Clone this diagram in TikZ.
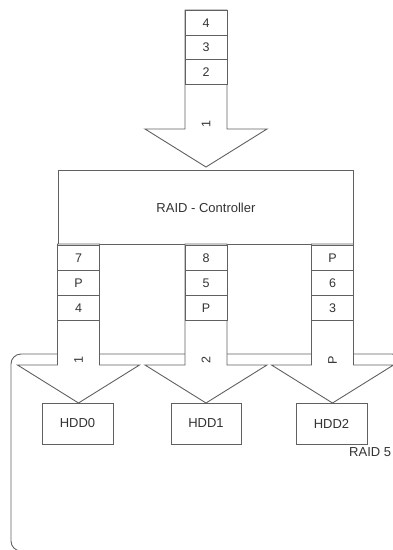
\documentclass[tikz,border=0pt]{standalone}
\usepackage{fontspec}
\setmainfont{Liberation Sans}
\begin{document}
\begin{tikzpicture}[x=1pt,y=-1pt,
  line/.style={draw=black!62,line width=0.9pt},
  cell/.style={line,fill=white,minimum width=42pt,minimum height=24.7pt,inner sep=0pt,anchor=north,font=\fontsize{12.5}{14}\selectfont,text=black!80},
  box/.style={line,fill=white,inner sep=0pt,font=\fontsize{13}{15}\selectfont,text=black!80},
  albl/.style={rotate=90,inner sep=0pt,font=\fontsize{12.5}{14}\selectfont,text=black!80},
  txt/.style={inner sep=0pt,font=\fontsize{13}{15}\selectfont,text=black!80}]
\useasboundingbox (0,0) rectangle (392,550);
% RAID 5 frame
\draw[line,rounded corners=10pt] (11,354) rectangle (402,551);
% top arrow
\draw[line,fill=white,line join=miter] (185,10) -- (227,10) -- (227,129) -- (267,129) -- (206,167) -- (145,129) -- (185,129) -- cycle;
\node[cell] (t4) at (206,10) {4};
\node[cell] (t3) at (206,34.7) {3};
\node[cell] (t2) at (206,59.3) {2};
\node[albl] (t1) at (206,124) {1};
% controller
\node[box,minimum width=295pt,minimum height=74pt,anchor=north west] (ctrl) at (58,170) {RAID - Controller};
% lower arrows
\foreach \cx/\n/\a/\b/\c/\lab in {78.5/a/7/P/4/1, 206/b/8/5/P/2, 332.5/c/P/6/3/P}{
  \draw[line,fill=white,line join=miter] (\cx-21,244) -- (\cx+21,244) -- (\cx+21,365) -- (\cx+61,365) -- (\cx,403) -- (\cx-61,365) -- (\cx-21,365) -- cycle;
  \node[cell] (\n1) at (\cx,245) {\a};
  \node[cell] (\n2) at (\cx,270.3) {\b};
  \node[cell] (\n3) at (\cx,295.3) {\c};
  \node[albl] (\n4) at (\cx,360) {\lab};
}
% disks
\node[box,minimum width=71pt,minimum height=41pt] (hdd0) at (77.5,423.5) {HDD0};
\node[box,minimum width=70pt,minimum height=41pt] (hdd1) at (206,423.5) {HDD1};
\node[box,minimum width=71pt,minimum height=41pt] (hdd2) at (331.5,423.5) {HDD2};
\node[txt,anchor=west] (raid5) at (349,452) {RAID 5};
\end{tikzpicture}
\end{document}
